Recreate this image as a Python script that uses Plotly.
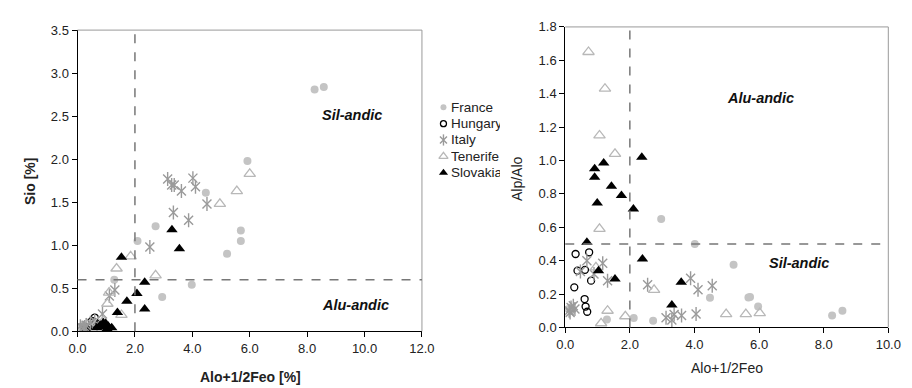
import plotly.graph_objects as go

# ---------------- data: left panel (Sio vs Alo+1/2Feo) ----------------
fr_L_x = [8.26, 8.58, 5.92, 4.47, 5.69, 5.69, 5.21, 2.72, 2.09, 1.28, 3.98, 2.95, 0.10, 0.20, 0.30, 0.15]
fr_L_y = [2.81, 2.84, 1.98, 1.61, 1.17, 1.05, 0.90, 1.22, 1.05, 0.60, 0.54, 0.40, 0.05, 0.07, 0.04, 0.03]
hu_L_x = [0.23, 0.28, 0.50, 0.60, 0.63, 0.68, 0.30, 0.38, 0.74]
hu_L_y = [0.02, 0.01, 0.12, 0.16, 0.10, 0.06, 0.03, 0.05, 0.08]
it_L_x = [3.14, 3.28, 3.37, 3.62, 4.02, 4.11, 4.51, 3.34, 3.87, 2.52, 1.30, 1.11, 0.87, 0.10, 0.20, 0.30, 0.45, 0.60, 0.25]
it_L_y = [1.77, 1.70, 1.70, 1.63, 1.78, 1.68, 1.48, 1.38, 1.29, 0.98, 0.48, 0.41, 0.20, 0.06, 0.04, 0.07, 0.10, 0.12, 0.05]
te_L_x = [6.00, 5.55, 4.96, 1.85, 1.36, 2.72, 1.10, 1.04, 1.53, 0.70, 0.90]
te_L_y = [1.83, 1.63, 1.48, 0.87, 0.73, 0.65, 0.45, 0.32, 0.19, 0.10, 0.12]
sk_L_x = [3.29, 3.55, 1.53, 2.34, 2.07, 1.72, 1.39, 2.34, 0.67, 0.79, 0.90, 0.98, 1.07, 1.19, 0.93, 1.03]
sk_L_y = [1.18, 0.96, 0.86, 0.57, 0.44, 0.35, 0.22, 0.26, 0.04, 0.07, 0.10, 0.09, 0.06, 0.04, 0.05, 0.03]

# ---------------- data: right panel (Alp/Alo vs Alo+1/2Feo) ----------------
fr_R_x = [2.97, 4.01, 5.21, 4.48, 5.72, 5.67, 5.97, 8.26, 8.58, 1.29, 2.12, 2.72, 0.10, 0.20]
fr_R_y = [0.65, 0.50, 0.376, 0.178, 0.182, 0.18, 0.125, 0.071, 0.10, 0.048, 0.056, 0.04, 0.11, 0.10]
hu_R_x = [0.32, 0.74, 0.38, 0.61, 0.80, 0.28, 0.60, 0.63, 0.68]
hu_R_y = [0.44, 0.45, 0.34, 0.345, 0.28, 0.24, 0.17, 0.125, 0.094]
it_R_x = [0.67, 0.47, 1.16, 1.31, 0.89, 2.55, 3.88, 4.11, 4.55, 4.05, 3.12, 3.30, 3.37, 3.60, 0.12, 0.18, 0.25, 0.15, 0.30]
it_R_y = [0.40, 0.335, 0.385, 0.28, 0.32, 0.255, 0.294, 0.226, 0.25, 0.081, 0.058, 0.045, 0.077, 0.071, 0.10, 0.12, 0.13, 0.09, 0.11]
te_R_x = [0.72, 1.23, 1.06, 1.54, 1.06, 0.95, 2.75, 1.31, 1.86, 1.11, 4.98, 5.59, 6.02]
te_R_y = [1.65, 1.43, 1.15, 1.04, 0.59, 0.36, 0.225, 0.10, 0.067, 0.025, 0.08, 0.08, 0.086]
sk_R_x = [0.67, 0.91, 0.91, 1.19, 0.99, 1.43, 1.74, 2.11, 2.37, 2.39, 1.03, 1.54, 3.59, 3.30]
sk_R_y = [0.51, 0.95, 0.90, 0.985, 0.745, 0.845, 0.79, 0.71, 1.02, 0.41, 0.34, 0.29, 0.27, 0.135]

countries = ["France", "Hungary", "Italy", "Tenerife", "Slovakia"]

FONT = "Liberation Sans, Arial, sans-serif"
GREY_FILL = "#c4c4c4"
GREY_STAR = "#9a9a9a"
GREY_TRI = "#b8b8b8"

# marker styles per country (index order of `countries`)
STYLES = [
    [dict(symbol="circle", size=8, color=GREY_FILL)],
    [dict(symbol="circle-open", size=7, color="black", line=dict(width=1.3))],
    [dict(symbol="x-thin-open", size=9, color=GREY_STAR, line=dict(width=1.4, color=GREY_STAR)),
     dict(symbol="line-ns-open", size=10, color=GREY_STAR, line=dict(width=1.4, color=GREY_STAR))],
    [dict(symbol="triangle-up-open", size=10, color=GREY_TRI, line=dict(width=1.3))],
    [dict(symbol="triangle-up", size=10, color="black")],
]

fig = go.Figure()


def add_panel(xa, ya, series):
    for name, (xs, ys), styles in zip(countries, series, STYLES):
        for st in styles:
            fig.add_trace(go.Scatter(x=xs, y=ys, mode="markers", name=name, showlegend=False,
                                     xaxis=xa, yaxis=ya, marker=st))


add_panel("x", "y", [(fr_L_x, fr_L_y), (hu_L_x, hu_L_y), (it_L_x, it_L_y), (te_L_x, te_L_y), (sk_L_x, sk_L_y)])
add_panel("x2", "y2", [(fr_R_x, fr_R_y), (hu_R_x, hu_R_y), (it_R_x, it_R_y), (te_R_x, te_R_y), (sk_R_x, sk_R_y)])

# ---- custom legend (drawn on a hidden pixel-coordinate overlay axis) ----
LEG_X = 437
LEG_Y0 = 96
LEG_DY = 17
for i, (name, styles) in enumerate(zip(countries, STYLES)):
    for st in styles:
        s = dict(st)
        s["size"] = max(6, st["size"] - 2)
        fig.add_trace(go.Scatter(x=[LEG_X], y=[LEG_Y0 + LEG_DY * i], mode="markers", showlegend=False,
                                 xaxis="x3", yaxis="y3", hoverinfo="skip", marker=s))

ax_common = dict(showgrid=False, zeroline=False, showline=True, linecolor="black", linewidth=1,
                 ticks="outside", ticklen=5, tickcolor="black",
                 tickfont=dict(family=FONT, size=13, color="#222"), tickformat=".1f")

fig.update_layout(
    width=912, height=388,
    margin=dict(l=0, r=0, t=0, b=0),
    paper_bgcolor="white", plot_bgcolor="rgba(0,0,0,0)",
    font=dict(family=FONT, color="#222"),
    xaxis=dict(domain=[0.068, 0.455], range=[0, 12], dtick=2, anchor="y", **ax_common),
    yaxis=dict(domain=[0.152, 0.9595], range=[0, 3.5], dtick=0.5, anchor="x", **ax_common),
    xaxis2=dict(domain=[0.616, 0.979], range=[0, 10], dtick=2, anchor="y2", **ax_common),
    yaxis2=dict(domain=[0.1624, 0.968], range=[0, 1.8], dtick=0.2, anchor="x2", **ax_common),
    xaxis3=dict(domain=[0, 1], range=[0, 912], visible=False, fixedrange=True, anchor="y3"),
    yaxis3=dict(domain=[0, 1], range=[388, 0], visible=False, fixedrange=True, anchor="x3"),
    showlegend=False,
)

shapes = []
for xr, yr in (("x", "y"), ("x2", "y2")):
    shapes.append(dict(type="line", xref=xr + " domain", yref=yr + " domain", x0=0, x1=1, y0=1, y1=1,
                       line=dict(color="#999", width=1)))
    shapes.append(dict(type="line", xref=xr + " domain", yref=yr + " domain", x0=1, x1=1, y0=0, y1=1,
                       line=dict(color="#999", width=1)))
shapes.append(dict(type="line", xref="x", yref="y domain", x0=2, x1=2, y0=0, y1=1,
                   line=dict(color="#777", width=1.5, dash="dash")))
shapes.append(dict(type="line", xref="x domain", yref="y", x0=0, x1=1, y0=0.6, y1=0.6,
                   line=dict(color="#777", width=1.5, dash="dash")))
shapes.append(dict(type="line", xref="x2", yref="y2 domain", x0=2, x1=2, y0=0, y1=1,
                   line=dict(color="#777", width=1.5, dash="dash")))
shapes.append(dict(type="line", xref="x2 domain", yref="y2", x0=0, x1=1, y0=0.5, y1=0.5,
                   line=dict(color="#777", width=1.5, dash="dash")))
fig.update_layout(shapes=shapes)

ann_font_bi = dict(family=FONT, size=14.5, color="#111")
title_font = dict(family=FONT, size=14, color="#222")
annotations = [
    dict(text="<b><i>Sil-andic</i></b>", x=9.55, y=2.51, xref="x", yref="y", showarrow=False, font=ann_font_bi),
    dict(text="<b><i>Alu-andic</i></b>", x=9.7, y=0.30, xref="x", yref="y", showarrow=False, font=ann_font_bi),
    dict(text="<b><i>Alu-andic</i></b>", x=6.04, y=1.376, xref="x2", yref="y2", showarrow=False, font=ann_font_bi),
    dict(text="<b><i>Sil-andic</i></b>", x=7.25, y=0.387, xref="x2", yref="y2", showarrow=False, font=ann_font_bi),
    dict(text="<b>Alo+1/2Feo [%]</b>", x=239 / 912, y=1 - 377 / 388, xref="paper", yref="paper",
         xanchor="center", yanchor="middle", showarrow=False, font=title_font),
    dict(text="<b>Sio [%]</b>", x=14 / 912, y=1 - 173 / 388, xref="paper", yref="paper", textangle=-90,
         xanchor="center", yanchor="middle", showarrow=False, font=title_font),
    dict(text="Alo+1/2Feo", x=728 / 912, y=1 - 367 / 388, xref="paper", yref="paper",
         xanchor="center", yanchor="middle", showarrow=False, font=title_font),
    dict(text="Alp/Alo", x=513 / 912, y=1 - 170 / 388, xref="paper", yref="paper", textangle=-90,
         xanchor="center", yanchor="middle", showarrow=False, font=title_font),
]
for i, name in enumerate(countries):
    annotations.append(dict(text=name, x=444, y=LEG_Y0 + LEG_DY * i, xref="x3", yref="y3",
                            xanchor="left", yanchor="middle", align="left", width=49,
                            showarrow=False, borderpad=0,
                            font=dict(family=FONT, size=13.5, color="#222")))
fig.update_layout(annotations=annotations)

fig.write_html("out.html")
